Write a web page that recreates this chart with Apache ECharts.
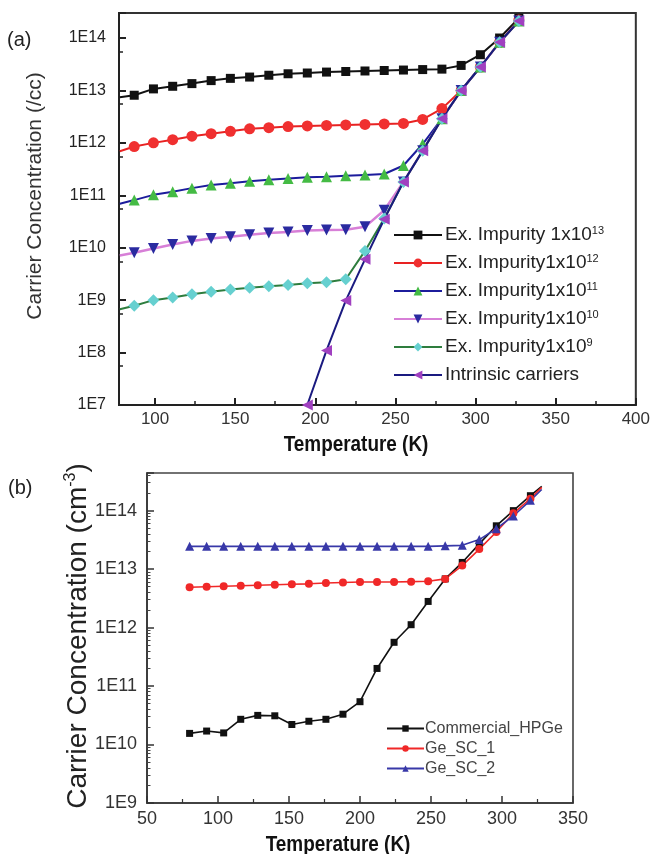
<!DOCTYPE html>
<html><head><meta charset="utf-8">
<script src="https://cdn.jsdelivr.net/npm/echarts@6/dist/echarts.min.js"></script>
<style>html,body{margin:0;padding:0;background:#fff}#c{width:653px;height:854px}</style>
</head><body><div id="c"></div>
<script>
// ---------- Panel (a) data ----------
const tempA = [78, 87, 99, 111, 123, 135, 147, 159, 171, 183, 195, 207, 219, 231, 243, 255, 267, 279, 291, 303, 315, 327];
const imp13 = [7.4e12, 8.1e12, 1.07e13, 1.2e13, 1.35e13, 1.54e13, 1.7e13, 1.8e13, 1.95e13, 2.08e13, 2.15e13, 2.24e13, 2.3e13, 2.35e13, 2.4e13, 2.45e13, 2.5e13, 2.55e13, 3.0e13, 4.8e13, 1.0e14, 2.4e14];
const imp12 = [6.9e11, 8.5e11, 1.0e12, 1.15e12, 1.34e12, 1.5e12, 1.66e12, 1.85e12, 1.95e12, 2.05e12, 2.1e12, 2.15e12, 2.2e12, 2.25e12, 2.3e12, 2.35e12, 2.8e12, 4.5e12, 1.0e13, 2.8e13, 8.3e13, 2.2e14];
const imp11 = [6.9e10, 8.1e10, 1.02e11, 1.17e11, 1.37e11, 1.57e11, 1.7e11, 1.85e11, 1.98e11, 2.1e11, 2.2e11, 2.25e11, 2.35e11, 2.45e11, 2.55e11, 3.7e11, 9.5e11, 2.9e12, 1.0e13, 2.8e13, 8.3e13, 2.1e14];
const imp10 = [7.1e9, 8.0e9, 9.7e9, 1.15e10, 1.35e10, 1.5e10, 1.62e10, 1.77e10, 1.9e10, 2.0e10, 2.12e10, 2.17e10, 2.2e10, 2.5e10, 5.2e10, 1.8e11, 7.1e11, 2.9e12, 1.0e13, 2.8e13, 8.3e13, 2.1e14];
const imp9  = [6.7e8, 7.8e8, 1.0e9, 1.12e9, 1.3e9, 1.45e9, 1.6e9, 1.73e9, 1.85e9, 1.95e9, 2.1e9, 2.2e9, 2.5e9, 8.7e9, 3.6e10, 1.8e11, 7.1e11, 2.9e12, 1.0e13, 2.8e13, 8.3e13, 2.1e14];
const tempIntr = [195, 207, 219, 231, 243, 255, 267, 279, 291, 303, 315, 327];
const intrinsic = [1.0e7, 1.1e8, 9.8e8, 6.0e9, 3.5e10, 1.8e11, 7.1e11, 2.9e12, 1.0e13, 2.8e13, 8.3e13, 2.1e14];
const legendBaseA = ['Ex. Impurity 1x10', 'Ex. Impurity1x10', 'Ex. Impurity1x10', 'Ex. Impurity1x10', 'Ex. Impurity1x10', 'Intrinsic carriers'];
const legendExpA  = ['13', '12', '11', '10', '9', ''];
const xTicksA = [100, 150, 200, 250, 300, 350, 400];

// ---------- Panel (b) data ----------
const tempB = [80, 92, 104, 116, 128, 140, 152, 164, 176, 188, 200, 212, 224, 236, 248, 260, 272, 284, 296, 308, 320, 328];
const hpge = [1.55e10, 1.7e10, 1.58e10, 2.7e10, 3.15e10, 3.1e10, 2.2e10, 2.5e10, 2.7e10, 3.3e10, 5.4e10, 2.0e11, 5.6e11, 1.12e12, 2.8e12, 6.8e12, 1.3e13, 2.7e13, 5.5e13, 1.0e14, 1.8e14, 2.6e14];
const geSC1 = [4.9e12, 5.0e12, 5.1e12, 5.2e12, 5.3e12, 5.4e12, 5.5e12, 5.6e12, 5.8e12, 5.9e12, 6.0e12, 6.0e12, 6.0e12, 6.1e12, 6.2e12, 6.8e12, 1.15e13, 2.2e13, 4.3e13, 9.0e13, 1.6e14, 2.5e14];
const geSC2 = [2.45e13, 2.45e13, 2.45e13, 2.45e13, 2.45e13, 2.45e13, 2.45e13, 2.45e13, 2.45e13, 2.45e13, 2.45e13, 2.45e13, 2.45e13, 2.45e13, 2.45e13, 2.5e13, 2.55e13, 3.2e13, 4.9e13, 8.1e13, 1.5e14, 2.3e14];
const legendB = ['Commercial_HPGe', 'Ge_SC_1', 'Ge_SC_2'];

// ---------- build ----------
const FONT = "'Liberation Sans', Arial, sans-serif";
const namesA = legendBaseA.map((b, i) => b + legendExpA[i]);

function pts(temps, vals, noFirstMarker, noLastMarker) {
  return temps.map((t, i) => {
    const p = { value: [t, vals[i]] };
    if ((noFirstMarker && i === 0) || (noLastMarker && i === temps.length - 1)) p.symbol = 'none';
    return p;
  });
}
function lineSeries(name, data, gi, lineColor, symColor, symbol, size, rot, lw) {
  return {
    type: 'line', name, xAxisIndex: gi === 0 ? 0 : 2, yAxisIndex: gi, data,
    symbol, symbolSize: size, symbolRotate: rot || 0, showAllSymbol: true,
    lineStyle: { color: lineColor, width: lw },
    itemStyle: { color: symColor, borderWidth: 0 },
    emphasis: { disabled: true }, clip: true, z: 3
  };
}
function logFmt(v) {
  const e = Math.log10(v);
  return Math.abs(e - Math.round(e)) < 1e-6 ? '1E' + Math.round(e) : '';
}

const series = [
  lineSeries(namesA[0], pts(tempA, imp13, true), 0, '#111', '#111', 'rect', 9, 0, 2),
  lineSeries(namesA[1], pts(tempA, imp12, true), 0, '#e82222', '#f03030', 'circle', 11, 0, 2),
  lineSeries(namesA[2], pts(tempA, imp11, true), 0, '#1c1c9c', '#44bb44', 'triangle', 11, 0, 2),
  lineSeries(namesA[3], pts(tempA, imp10, true), 0, '#d77fd7', '#2a2aa0', 'triangle', 11, 180, 2.5),
  lineSeries(namesA[4], pts(tempA, imp9, true), 0, '#2e7d3e', '#66d0d0', 'diamond', 12, 0, 2),
  lineSeries(namesA[5], pts(tempIntr, intrinsic, false), 0, '#1a1a80', '#a040c0', 'triangle', 11, 90, 2),
  lineSeries(legendB[0], pts(tempB, hpge, false, true), 1, '#111', '#111', 'rect', 7, 0, 1.6),
  lineSeries(legendB[1], pts(tempB, geSC1, false, true), 1, '#f02828', '#f02828', 'circle', 8, 0, 1.6),
  lineSeries(legendB[2], pts(tempB, geSC2, false, true), 1, '#3838a8', '#3838a8', 'triangle', 9, 0, 1.6)
];

const axisCol = '#222';
const option = {
  animation: false,
  backgroundColor: '#fff',
  grid: [
    { left: 119, top: 13, right: 15, bottom: 449, show: true, borderColor: '#333', borderWidth: 2, backgroundColor: 'transparent' },
    { left: 147, top: 473, right: 80, bottom: 51, show: true, borderColor: '#444', borderWidth: 1.6, backgroundColor: 'transparent' }
  ],
  xAxis: [
    { type: 'value', gridIndex: 0, min: 77.5, max: 400, splitNumber: 6,
      axisLine: { show: true, onZero: false, lineStyle: { color: axisCol, width: 2 } },
      axisTick: { inside: true, length: 7, lineStyle: { color: axisCol, width: 2 } },
      minorTick: { show: true, splitNumber: 2, length: 4, lineStyle: { color: axisCol, width: 1.5 } },
      axisLabel: { margin: 6, fontSize: 17, color: '#333', fontFamily: FONT,
        formatter: v => xTicksA.indexOf(Math.round(v)) >= 0 && Math.abs(v - Math.round(v)) < 1e-6 ? String(Math.round(v)) : '' },
      splitLine: { show: false } },
    { type: 'value', gridIndex: 0, min: 77.5, max: 400, position: 'top', show: false },
    { type: 'value', gridIndex: 1, min: 50, max: 350, interval: 50,
      axisLine: { show: true, onZero: false, lineStyle: { color: '#333', width: 1.6 } },
      axisTick: { inside: true, length: 7, lineStyle: { color: '#333', width: 1.5 } },
      minorTick: { show: true, splitNumber: 2, length: 4, lineStyle: { color: '#333', width: 1.2 } },
      axisLabel: { margin: 7, fontSize: 18, color: '#333', fontFamily: FONT },
      splitLine: { show: false } }
  ],
  yAxis: [
    { type: 'log', gridIndex: 0, logBase: 10, min: 1e7, max: 3e14,
      axisLine: { show: true, lineStyle: { color: axisCol, width: 2 } },
      axisTick: { inside: true, length: 7, lineStyle: { color: axisCol, width: 2 } },
      minorTick: { show: true, splitNumber: 2, length: 4, lineStyle: { color: axisCol, width: 1.5 } },
      axisLabel: { margin: 13, fontSize: 16, color: '#222', fontFamily: FONT, formatter: logFmt },
      splitLine: { show: false }, minorSplitLine: { show: false } },
    { type: 'log', gridIndex: 1, logBase: 10, min: 1e9, max: 4.4e14,
      axisLine: { show: true, lineStyle: { color: '#333', width: 1.6 } },
      axisTick: { inside: true, length: 7, lineStyle: { color: '#333', width: 1.5 } },
      minorTick: { show: true, splitNumber: 9, length: 3.5, lineStyle: { color: '#444', width: 1 } },
      axisLabel: { margin: 10, fontSize: 18, color: '#333', fontFamily: FONT, formatter: logFmt },
      splitLine: { show: false }, minorSplitLine: { show: false } }
  ],
  legend: [
    { orient: 'vertical', left: 388, top: 220, itemWidth: 48, itemHeight: 11, itemGap: 8,
      data: namesA, selectedMode: false,
      formatter: name => { const i = namesA.indexOf(name); return '{n|' + legendBaseA[i] + '}' + (legendExpA[i] ? '{s|' + legendExpA[i] + '}' : ''); },
      textStyle: { fontFamily: FONT, fontSize: 19, color: '#222', lineHeight: 20, padding: [0, 0, 0, -2],
        rich: { n: { fontFamily: FONT, fontSize: 19, color: '#222', lineHeight: 20 },
                s: { fontFamily: FONT, fontSize: 11, color: '#222', lineHeight: 12, verticalAlign: 'top' } } } },
    { orient: 'vertical', left: 381, top: 715, itemWidth: 37, itemHeight: 8, itemGap: 3,
      data: legendB, selectedMode: false,
      textStyle: { fontFamily: FONT, fontSize: 16, color: '#444', lineHeight: 17, padding: [0, 0, 0, -4] } }
  ],
  graphic: [
    { type: 'text', left: 7, top: 30, style: { text: '(a)', font: '20px ' + FONT, fill: '#222' } },
    { type: 'text', left: 8, top: 478, style: { text: '(b)', font: '20px ' + FONT, fill: '#222' } },
    { type: 'text', x: 35, y: 196, rotation: Math.PI / 2,
      style: { text: 'Carrier Concentration (/cc)', font: '21px ' + FONT, fill: '#333', align: 'center', verticalAlign: 'middle' } },
    { type: 'text', x: 78, y: 636, rotation: Math.PI / 2,
      style: { text: '{n|Carrier Concentration (cm}{s|-3}{n|)}', align: 'center', verticalAlign: 'middle',
        rich: { n: { fontFamily: FONT, fontSize: 28, fill: '#222', lineHeight: 30 },
                s: { fontFamily: FONT, fontSize: 16, fill: '#222', lineHeight: 16, verticalAlign: 'top' } } } },
    { type: 'text', x: 356, y: 445, scaleX: 0.86,
      style: { text: 'Temperature (K)', font: 'bold 22px ' + FONT, fill: '#111', align: 'center', verticalAlign: 'middle' } },
    { type: 'text', x: 338, y: 845, scaleX: 0.86,
      style: { text: 'Temperature (K)', font: 'bold 22px ' + FONT, fill: '#111', align: 'center', verticalAlign: 'middle' } }
  ],
  series
};
const chart = echarts.init(document.getElementById('c'), null, { renderer: 'canvas' });
chart.setOption(option);
</script>
</body></html>
